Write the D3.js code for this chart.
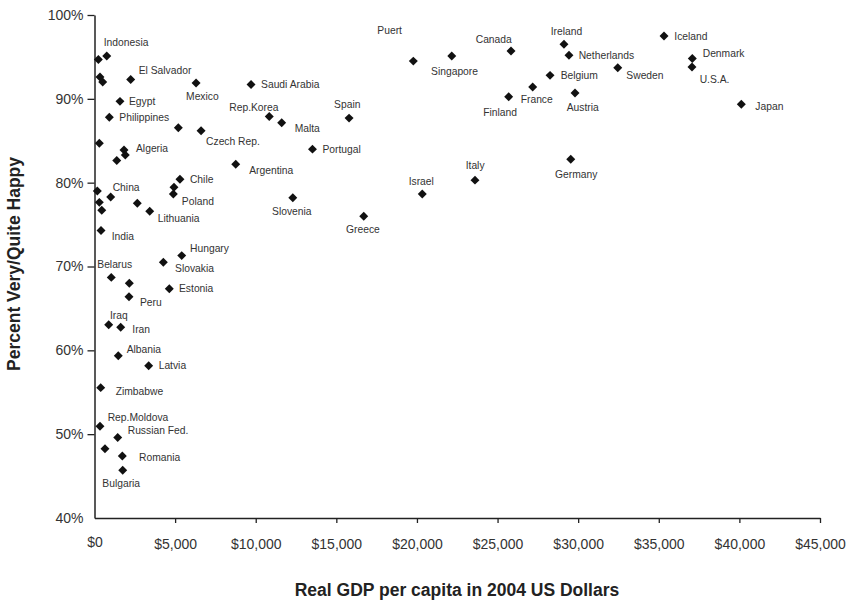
<!DOCTYPE html>
<html lang="en">
<head>
    <meta charset="UTF-8">
    <title>Happiness vs GDP</title>
    <script src="https://cdnjs.cloudflare.com/ajax/libs/d3/7.4.4/d3.min.js"></script>
    <style>
        body {
            margin: 0;
            background: #fff;
            font-family: "Liberation Sans", Arial, sans-serif;
        }
        .label { font-size: 10.3px; fill: #333; }
        .tick text { fill: #333; }
        .title { font-size: 17.5px; font-weight: bold; fill: #222; }
    </style>
</head>
<body>
    <svg id="chart" width="849" height="603"></svg>

    <script>
        // Country names ("" = unlabeled point)
        const countries = [
            "Indonesia", "", "", "", "El Salvador", "Mexico", "Saudi Arabia", "Egypt", "Philippines", "",
            "Czech Rep.", "Rep.Korea", "Malta", "Portugal", "", "Algeria", "", "", "Argentina", "Chile",
            "", "Poland", "Slovenia", "", "China", "", "", "", "Lithuania", "India",
            "Hungary", "Slovakia", "Belarus", "", "Peru", "Estonia", "Iraq", "Iran", "Albania", "Latvia",
            "Zimbabwe", "Rep.Moldova", "Russian Fed.", "", "Romania", "Bulgaria", "Puert", "Singapore", "Canada", "Ireland",
            "Netherlands", "Belgium", "France", "Finland", "Austria", "Spain", "Germany", "Italy", "Israel", "Greece",
            "Iceland", "Sweden", "Denmark", "U.S.A.", "Japan"
        ];

        // Real GDP per capita, 2004 US$
        const gdp = [
            760, 240, 340, 510, 2245, 6300, 9710, 1580, 920, 5200,
            6610, 10840, 11610, 13520, 300, 1830, 1910, 1380, 8760, 5300,
            4930, 4890, 12300, 175, 1005, 300, 450, 2655, 3425, 405,
            5410, 4270, 1040, 2160, 2140, 4640, 880, 1625, 1475, 3360,
            385, 340, 1440, 650, 1725, 1750, 19775, 22160, 25835, 29120,
            29430, 28255, 27180, 25690, 29805, 15790, 29540, 23600, 20330, 16700,
            35325, 32455, 37080, 37060, 40120
        ];

        // Percent very / quite happy
        const happy = [
            95.1, 94.7, 92.6, 92.0, 92.3, 91.9, 91.7, 89.7, 87.8, 86.55,
            86.2, 87.9, 87.15, 84.0, 84.7, 83.9, 83.3, 82.65, 82.2, 80.4,
            79.45, 78.65, 78.2, 79.0, 78.3, 77.65, 76.7, 77.55, 76.6, 74.3,
            71.3, 70.5, 68.7, 68.0, 66.4, 67.35, 63.05, 62.75, 59.35, 58.15,
            55.55, 50.95, 49.6, 48.25, 47.4, 45.7, 94.5, 95.1, 95.7, 96.5,
            95.2, 92.8, 91.4, 90.25, 90.7, 87.7, 82.8, 80.3, 78.65, 76.0,
            97.5, 93.7, 94.8, 93.8, 89.35
        ];

        const xTicks = [0, 5000, 10000, 15000, 20000, 25000, 30000, 35000, 40000, 45000];
        const yTicks = [40, 50, 60, 70, 80, 90, 100];

        // label placement relative to the marker, in px
        const labelOffset = {
            "Indonesia": [-3, -14], "El Salvador": [8, -9], "Mexico": [-10, 13], "Saudi Arabia": [10, 0],
            "Egypt": [9, 0], "Philippines": [10, 0], "Czech Rep.": [5, 11], "Rep.Korea": [-40, -9.5],
            "Malta": [13, 6], "Portugal": [10, 0], "Algeria": [12, -2], "Argentina": [13.5, 6.5],
            "Chile": [10, 0], "Poland": [8.5, 7], "Slovenia": [-20.7, 13.5], "China": [2, -9.5],
            "Lithuania": [8, 7.5], "India": [10.7, 6], "Hungary": [8.3, -7], "Slovakia": [11.7, 6],
            "Belarus": [-14, -13], "Peru": [11, 5.3], "Estonia": [9.7, 0], "Iraq": [1.3, -9],
            "Iran": [11.6, 2], "Albania": [8.4, -6.4], "Latvia": [10, 0], "Zimbabwe": [15, 4],
            "Rep.Moldova": [7.7, -9.3], "Russian Fed.": [10, -7.3], "Romania": [16.7, 1.3], "Bulgaria": [-20.4, 12.7],
            "Puert": [-36, -31], "Singapore": [-20.7, 15.3], "Canada": [-35.3, -11.7], "Ireland": [-13.3, -12.6],
            "Netherlands": [9.7, 0], "Belgium": [10.7, 0], "France": [-12, 12.7], "Finland": [-25.4, 15.6],
            "Austria": [-8.3, 14], "Spain": [-15, -13.6], "Germany": [-15.7, 15.3], "Italy": [-9.3, -14.6],
            "Israel": [-13.6, -12.3], "Greece": [-17.7, 13], "Iceland": [10.3, 0], "Sweden": [8.6, 7.6],
            "Denmark": [10.4, -5], "U.S.A.": [7.7, 12], "Japan": [14, 2.4]
        };

        const svg = d3.select("#chart");

        const x = d3.scaleLinear().domain([0, 45000]).range([94.5, 820]);
        const y = d3.scaleLinear().domain([40, 100]).range([518, 15]);

        // y axis
        const yAxis = svg.append("g")
            .attr("transform", "translate(94.5,0)")
            .call(d3.axisLeft(y)
                .tickValues(yTicks)
                .tickSize(7)
                .tickSizeOuter(0)
                .tickPadding(4)
                .tickFormat(d => d + "%"));
        yAxis.selectAll(".tick text").style("font-size", "14px").style("font-family", "'Liberation Sans', Arial, sans-serif");
        yAxis.selectAll(".tick line").filter(d => d === 40).remove();

        // x axis
        const xAxis = svg.append("g")
            .attr("transform", "translate(0,518)")
            .call(d3.axisBottom(x)
                .tickValues(xTicks)
                .tickSize(5)
                .tickSizeOuter(0)
                .tickPadding(19)
                .tickFormat(d => "$" + d3.format(",")(d)));
        xAxis.selectAll(".tick text").style("font-size", "14px").style("font-family", "'Liberation Sans', Arial, sans-serif")
            .attr("dy", null)
            .attr("y", d => d === 0 ? 29 : 30.5);
        xAxis.selectAll(".tick line").filter(d => d === 0).remove();

        svg.selectAll(".domain").attr("stroke", "#222").attr("stroke-width", 1.5);
        svg.selectAll(".tick line").attr("stroke", "#222").attr("stroke-width", 1.3);

        // points
        const pts = d3.range(countries.length);

        svg.append("g").selectAll("path")
            .data(pts)
            .enter()
            .append("path")
            .attr("d", d3.symbol(d3.symbolSquare).size(40))
            .attr("transform", i => `translate(${x(gdp[i])},${y(happy[i])}) rotate(45)`)
            .attr("fill", "#111");

        svg.append("g").selectAll("text")
            .data(pts.filter(i => countries[i] !== ""))
            .enter()
            .append("text")
            .attr("class", "label")
            .attr("x", i => x(gdp[i]) + labelOffset[countries[i]][0])
            .attr("y", i => y(happy[i]) + labelOffset[countries[i]][1])
            .attr("dy", "0.35em")
            .text(i => countries[i]);

        // axis titles
        svg.append("text")
            .attr("class", "title")
            .attr("x", 457)
            .attr("y", 596)
            .attr("text-anchor", "middle")
            .text("Real GDP per capita in 2004 US Dollars");

        svg.append("text")
            .attr("class", "title")
            .attr("transform", "translate(19.5,264) rotate(-90)")
            .attr("text-anchor", "middle")
            .text("Percent Very/Quite Happy");
    </script>
</body>
</html>
